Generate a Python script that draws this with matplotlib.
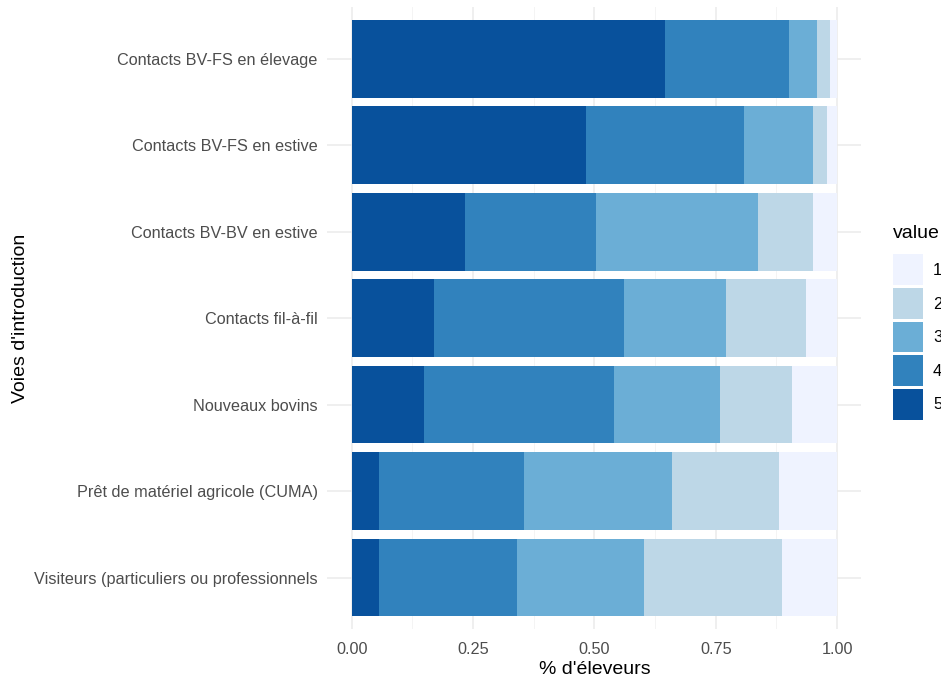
import matplotlib
matplotlib.use("Agg")
import matplotlib.pyplot as plt
from matplotlib.patches import Patch
import numpy as np

plt.rcParams['font.family'] = ['Liberation Sans', 'DejaVu Sans']

categories = [
    "Contacts BV-FS en élevage",
    "Contacts BV-FS en estive",
    "Contacts BV-BV en estive",
    "Contacts fil-à-fil",
    "Nouveaux bovins",
    "Prêt de matériel agricole (CUMA)",
    "Visiteurs (particuliers ou professionnels",
]
levels = ["1", "2", "3", "4", "5"]
# share of farmers per level (value 5 .. 1)
v5 = [0.646, 0.483, 0.234, 0.170, 0.149, 0.057, 0.057]
v4 = [0.254, 0.326, 0.269, 0.390, 0.391, 0.297, 0.283]
v3 = [0.058, 0.142, 0.334, 0.212, 0.218, 0.306, 0.262]
v2 = [0.028, 0.028, 0.114, 0.164, 0.149, 0.220, 0.285]
v1 = [0.014, 0.021, 0.049, 0.064, 0.093, 0.120, 0.113]
colors = {"1": "#EFF3FF", "2": "#BDD7E7", "3": "#6BAED6", "4": "#3182BD", "5": "#08519C"}

fig = plt.figure(figsize=(9.41, 6.77), dpi=100)
ax = fig.add_axes([0.348, 0.0703, 0.5673, 0.9197])

y = np.arange(len(categories))[::-1] + 1
left = np.zeros(len(categories))
for lev, vals in [("5", v5), ("4", v4), ("3", v3), ("2", v2), ("1", v1)]:
    vals = np.array(vals)
    ax.barh(y, vals, left=left, height=0.9, color=colors[lev], edgecolor='none', zorder=2)
    left += vals

ax.set_xlim(-0.05, 1.05)
ax.set_ylim(0.4, len(categories) + 0.6)
ax.set_yticks(y)
ax.set_yticklabels(categories)
ax.set_xticks([0, 0.25, 0.5, 0.75, 1.0])
ax.set_xticklabels(["0.00", "0.25", "0.50", "0.75", "1.00"])
ax.set_xticks([0.125, 0.375, 0.625, 0.875], minor=True)
ax.grid(True, which='major', color='#EBEBEB', linewidth=1.1, zorder=0)
ax.grid(True, which='minor', axis='x', color='#F2F2F2', linewidth=0.6, zorder=0)
ax.set_axisbelow(True)
for s in ax.spines.values():
    s.set_visible(False)
ax.tick_params(which='both', length=0, labelsize=11.7, labelcolor='#4D4D4D')
ax.tick_params(axis='x', pad=9)
ax.tick_params(axis='y', pad=7)
ax.set_xlabel("% d'éleveurs", fontsize=14, color='black', labelpad=3)
ax.set_ylabel("Voies d'introduction", fontsize=14, color='black', labelpad=4)

handles = [Patch(facecolor=colors[l], edgecolor='none') for l in levels]
leg = fig.legend(handles, levels, title="value", loc='upper left',
                 bbox_to_anchor=(893 / 941, 1 - 225 / 677), frameon=False,
                 fontsize=12, title_fontsize=14, handlelength=1.8, handleheight=2.45,
                 labelspacing=0.18, handletextpad=0.6, borderaxespad=0, borderpad=0)
leg._legend_box.align = "left"
leg._legend_box.sep = 9

fig.savefig("out.png", dpi=100)
